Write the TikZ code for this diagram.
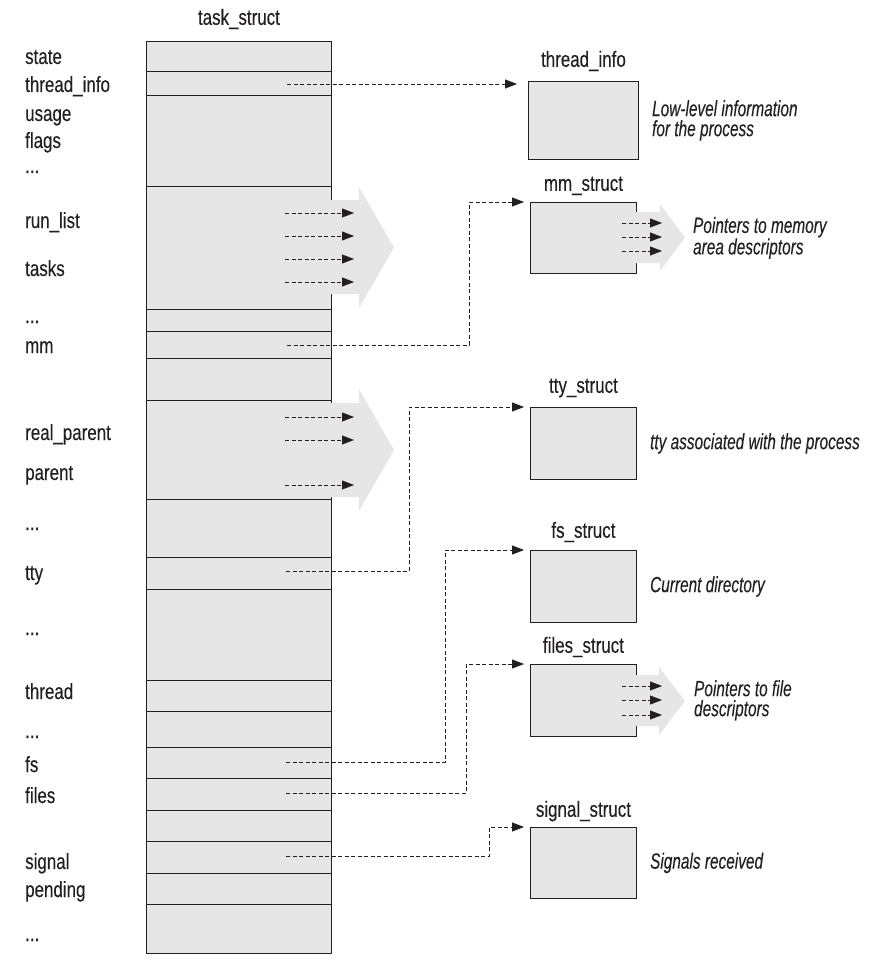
\documentclass[tikz,border=0pt]{standalone}
\usepackage{fontspec}
\setmainfont{Liberation Sans}[FakeStretch=0.77,FakeBold=0.2,ItalicFeatures={FakeStretch=0.70}]
\usetikzlibrary{arrows.meta,positioning,calc}
\definecolor{boxgray}{RGB}{230,230,230}
\definecolor{ink}{RGB}{35,31,32}
\newcommand\fielddots{...}

\begin{document}
\begin{tikzpicture}[x=1pt,y=-1pt,
  font=\fontsize{22}{20}\selectfont,
  field/.style={anchor=base west,inner sep=0pt,text=ink},
  structbox/.style={draw=ink,fill=boxgray,line width=0.9pt,anchor=north west,inner sep=0pt},
  title/.style={inner sep=0pt,text depth=0pt,text=ink},
  note/.style={inner sep=0pt,align=left,text=ink,font=\fontsize{22}{20}\selectfont\itshape},
  ptr/.style={draw=ink,line width=0.8pt,dash pattern=on 4pt off 2.5pt,-{Triangle[length=12pt,width=9pt]}},
  bigarrow/.style={fill=boxgray}]
  \useasboundingbox (0,0) rectangle (878,960);

  % task_struct column
  \node[structbox,minimum width=185,minimum height=912] (task) at (146,41) {};
  \node[title,above=16pt of task] (tasktitle) {task\_struct};
  \foreach \y in {71,95,186,309,331,358,400,499,557,589,680,711,747,778,810,841,873,904}
    \draw[ink,line width=0.9pt] (146,\y) -- (331,\y); % row dividers

  % field names
  \foreach \t/\y [count=\i] in {state/64,thread\_info/92,usage/121,flags/148,\fielddots/173,
      run\_list/228,tasks/276,\fielddots/323,mm/353,real\_parent/440,parent/480,\fielddots/530,
      tty/580,\fielddots/635,thread/699,\fielddots/738,fs/772,files/803,signal/869,pending/897,\fielddots/941}
    \node[field] (f\i) at (25,\y) {\t};

  % list heads pointing out of the column
  \fill[bigarrow] (330,200) -- (359,200) -- (359,187) -- (394,247.5) -- (359,308) -- (359,294) -- (330,294) -- cycle;
  \fill[bigarrow] (330,403) -- (359,403) -- (359,389) -- (394,450) -- (359,511) -- (359,497) -- (330,497) -- cycle;
  \foreach \y in {213,236,259,282,417,440,485}
    \draw[ptr] (285,\y) -- (354,\y);

  % target structures
  \node[structbox,minimum width=110,minimum height=78] (tinfo) at (528,81) {};
  \node[structbox,minimum width=106,minimum height=71] (mm) at (530,202) {};
  \node[structbox,minimum width=106,minimum height=72] (tty) at (530,407) {};
  \node[structbox,minimum width=106,minimum height=72] (fs) at (530,550) {};
  \node[structbox,minimum width=106,minimum height=72] (files) at (530,664) {};
  \node[structbox,minimum width=106,minimum height=71] (signal) at (530,827) {};

  \node[title,above=14pt of tinfo] (tinfotitle) {thread\_info};
  \node[title,above=11pt of mm] (mmtitle) {mm\_struct};
  \node[title,above=14pt of tty] (ttytitle) {tty\_struct};
  \node[title,above=12pt of fs] (fstitle) {fs\_struct};
  \node[title,above=11pt of files] (filestitle) {files\_struct};
  \node[title,above=10pt of signal] (signaltitle) {signal\_struct};

  % arrays of pointers leaving mm_struct and files_struct
  \fill[bigarrow] (635,212) -- (660,212) -- (660,204) -- (685,237.5) -- (660,271) -- (660,263) -- (635,263) -- cycle;
  \fill[bigarrow] (635,675) -- (659,675) -- (659,667) -- (685,701) -- (659,735) -- (659,726) -- (635,726) -- cycle;
  \foreach \y in {223,237,251,686,700,715}
    \draw[ptr] (622,\y) -- (662,\y);

  % descriptions
  \node[note,anchor=west,right=13pt of tinfo] (tinfonote) {Low-level information\\for the process};
  \node[note,anchor=west,right=56pt of mm] (mmnote) {Pointers to memory\\area descriptors};
  \node[note,anchor=west,right=13pt of tty] (ttynote) {tty associated with the process};
  \node[note,anchor=west,right=13pt of fs] (fsnote) {Current directory};
  \node[note,anchor=west,right=57pt of files] (filesnote) {Pointers to file\\descriptors};
  \node[note,anchor=west,right=13pt of signal] (signalnote) {Signals received};

  % pointers from the fields
  \coordinate (p-tinfo) at (287,84);
  \coordinate (p-mm) at (287,345);
  \coordinate (p-tty) at (286,571);
  \coordinate (p-fs) at (286,762);
  \coordinate (p-files) at (286,793);
  \coordinate (p-signal) at (286,856);
  \draw[ptr,shorten >=11pt] (p-tinfo) -- (p-tinfo -| tinfo.west);
  \draw[ptr,shorten >=6pt] (p-mm) -| ($(mm.north west)+(-61,0)$) -- (mm.north west);
  \draw[ptr,shorten >=6pt] (p-tty) -| ($(tty.north west)+(-121,0)$) -- (tty.north west);
  \draw[ptr,shorten >=6pt] (p-fs) -| ($(fs.north west)+(-85,0)$) -- (fs.north west);
  \draw[ptr,shorten >=6pt] (p-files) -| ($(files.north west)+(-64,0)$) -- (files.north west);
  \draw[ptr,shorten >=6pt] (p-signal) -| ($(signal.north west)+(-41,0)$) -- (signal.north west);
\end{tikzpicture}
\end{document}
